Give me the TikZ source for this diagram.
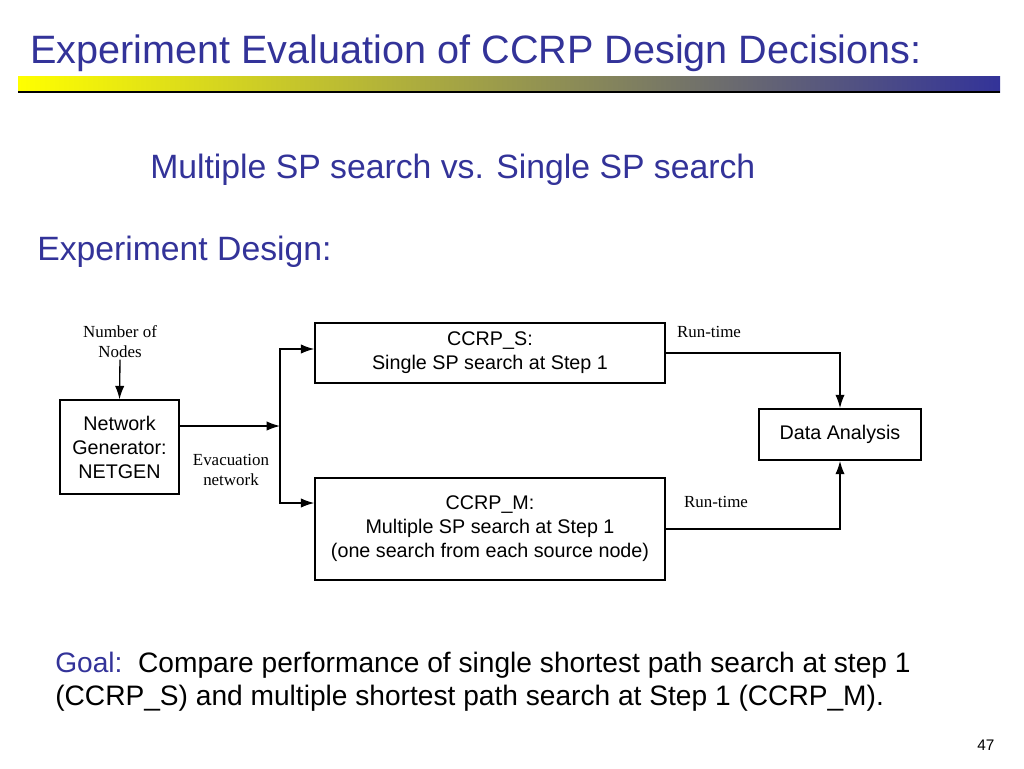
\documentclass[tikz,border=0pt]{standalone}
\usepackage{fontspec}
\setmainfont{Liberation Sans}
\newfontfamily\timesfont{Liberation Serif}
\usetikzlibrary{arrows.meta}
\definecolor{titleblue}{RGB}{51,51,153}
\definecolor{bargrey}{RGB}{178,178,140}
\tikzset{
  box/.style={draw, line width=1.6pt, align=center, inner sep=2pt,
    font=\fontsize{14.8}{18}\selectfont},
  small/.style={align=center, inner sep=1pt,
    font=\timesfont\fontsize{12.7}{15}\selectfont},
  flow/.style={-{Latex[length=10pt,width=7pt]}, line width=1pt},
}
\begin{document}
\begin{tikzpicture}[x=0.75pt,y=-0.75pt]
        \useasboundingbox[fill=white] (0,0) rectangle (1024,768);

        % title and bar
        \node[anchor=base west, inner sep=0pt, text=titleblue, font=\fontsize{29.7}{36}\selectfont] (title) at (30,63) {Experiment Evaluation of CCRP Design Decisions:};
        \shade[left color=yellow, middle color=bargrey, right color=titleblue] (18,76) rectangle (1000,92);
        \draw[line width=1pt] (18,92) -- (1000,92);

        \node[anchor=base west, inner sep=0pt, text=titleblue, font=\fontsize{25.3}{30}\selectfont] (sub) at (150,178) {Multiple SP search vs. Single SP search};
        \node[anchor=base west, inner sep=0pt, text=titleblue, font=\fontsize{25.3}{30}\selectfont] (design) at (37,260) {Experiment Design:};

        % boxes
        \node[box, minimum width=89pt, minimum height=70pt] (netgen) at (119.5,447) {Network\\Generator:\\NETGEN};
        \node[box, minimum width=262pt, minimum height=45pt] (ccrps) at (490,353) {CCRP\_S:\\Single SP search at Step 1};
        \node[box, minimum width=262pt, minimum height=76pt] (ccrpm) at (490,529) {CCRP\_M:\\Multiple SP search at Step 1\\(one search from each source node)};
        \node[box, minimum width=121pt, minimum height=38pt] (data) at (840,434.5) {Data Analysis};

        % labels
        \node[small] (nnodes) at (120,342) {Number of\\Nodes};
        \node[small] (evac) at (231,470) {Evacuation\\network};
        \node[small] (rts) at (709,332) {Run-time};
        \node[small] (rtm) at (716,502) {Run-time};

        % connectors
        \coordinate (split) at (280,426);
        \draw[flow] (nnodes.south) -- (netgen.north);
        \draw[flow] (netgen.east |- split) -- (split);
        \draw[flow] (split) |- ([yshift=3pt]ccrps.west);
        \draw[flow] (split) |- ([yshift=19.5pt]ccrpm.west);
        \draw[flow] (ccrps.east) -| (data.north);
        \draw[flow] (ccrpm.east) -| (data.south);

        % goal
        \node[anchor=base west, inner sep=0pt, align=left, font=\fontsize{21.1}{24.75}\selectfont] (goal) at (55,705) {\textcolor{titleblue}{Goal:}\ \ Compare performance of single shortest path search at step 1\\(CCRP\_S) and multiple shortest path search at Step 1 (CCRP\_M).};

        \node[anchor=base west, inner sep=0pt, font=\fontsize{11.5}{13}\selectfont] (page) at (977,750) {47};
    \end{tikzpicture}
\end{document}
